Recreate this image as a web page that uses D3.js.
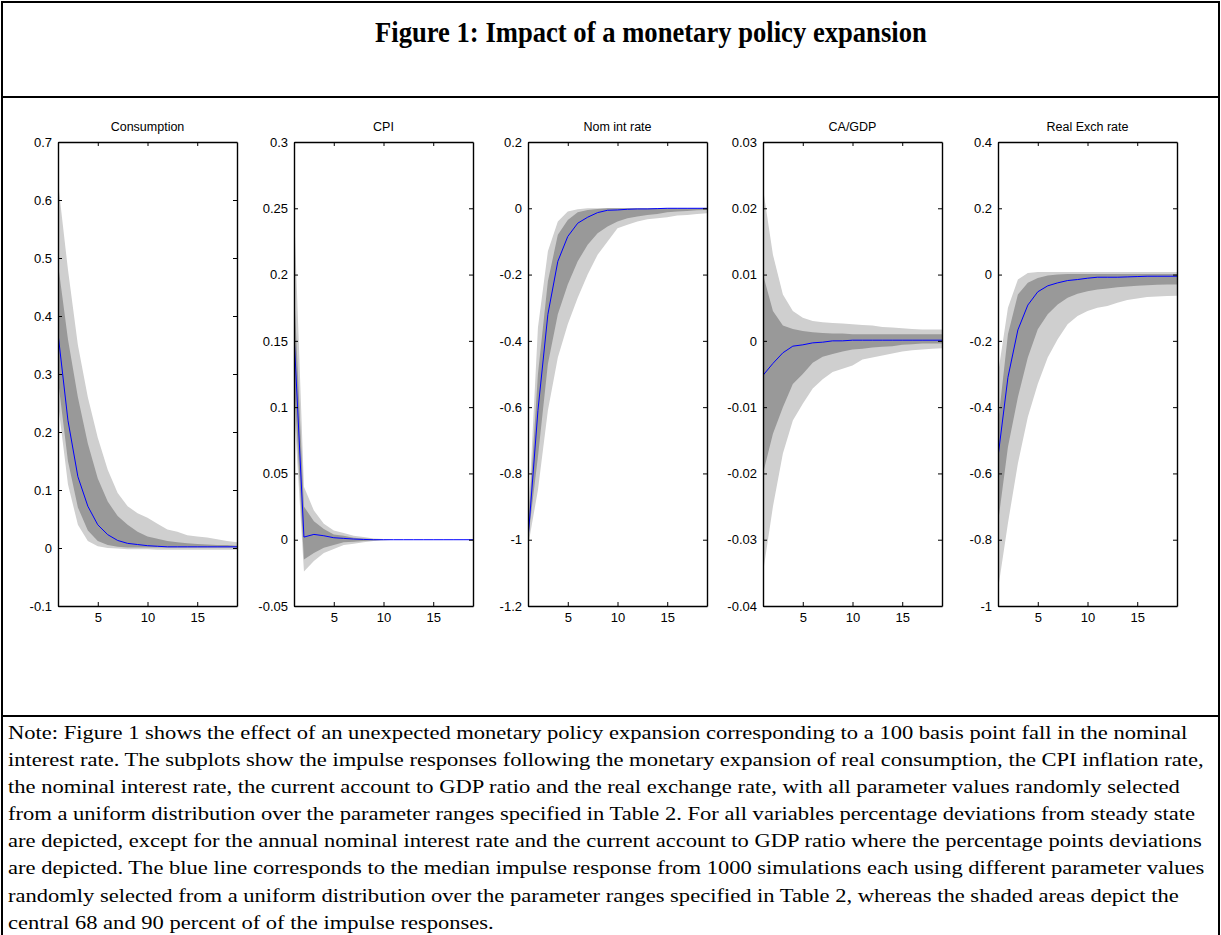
<!DOCTYPE html>
<html>
<head>
<meta charset="utf-8">
<script src="https://cdn.jsdelivr.net/npm/d3@7"></script>
<style>
  body { margin: 0; background: #fff; }
  svg text { fill: #000; }
</style>
</head>
<body>
<div id="chart"></div>
<script>
var w = 1221;
var h = 935;

// periods after the shock
var periods = [1, 2, 3, 4, 5, 6, 7, 8, 9, 10, 11, 12, 13, 14, 15, 16, 17, 18, 19];
var xTicks = [5, 10, 15];

var titles = ["Consumption", "CPI", "Nom int rate", "CA/GDP", "Real Exch rate"];

// Consumption
var consMed  = [0.37, 0.22, 0.123, 0.072, 0.04, 0.023, 0.013, 0.008, 0.006, 0.004, 0.003, 0.002, 0.002, 0.002, 0.002, 0.002, 0.002, 0.002, 0.002];
var consLo90 = [0.25, 0.11, 0.04, 0.012, 0.003, 0.0, -0.001, -0.002, -0.002, -0.002, -0.003, -0.003, -0.003, -0.003, -0.003, -0.003, -0.003, -0.003, -0.003];
var consLo68 = [0.29, 0.15, 0.07, 0.03, 0.012, 0.005, 0.002, 0.001, 0.001, 0.001, 0.001, 0.001, 0.001, 0.001, 0.001, 0.001, 0.001, 0.001, 0.001];
var consHi68 = [0.49, 0.36, 0.26, 0.18, 0.12, 0.08, 0.055, 0.04, 0.028, 0.02, 0.016, 0.012, 0.01, 0.008, 0.007, 0.006, 0.005, 0.005, 0.004];
var consHi90 = [0.63, 0.48, 0.35, 0.26, 0.19, 0.135, 0.095, 0.072, 0.06, 0.052, 0.042, 0.032, 0.028, 0.022, 0.02, 0.018, 0.015, 0.012, 0.01];
var consTicks = [0.7, 0.6, 0.5, 0.4, 0.3, 0.2, 0.1, 0, -0.1];

// CPI
var cpiMed  = [0.155, 0.002, 0.004, 0.003, 0.0015, 0.001, 0.0005, 0.0002, 0, 0, 0, 0, 0, 0, 0, 0, 0, 0, 0];
var cpiLo90 = [0.1, -0.024, -0.016, -0.01, -0.007, -0.004, -0.003, -0.002, -0.001, -0.0005, 0, 0, 0, 0, 0, 0, 0, 0, 0];
var cpiLo68 = [0.12, -0.015, -0.01, -0.006, -0.004, -0.002, -0.0015, -0.001, -0.0005, 0, 0, 0, 0, 0, 0, 0, 0, 0, 0];
var cpiHi68 = [0.19, 0.025, 0.014, 0.008, 0.004, 0.003, 0.0015, 0.001, 0.0005, 0, 0, 0, 0, 0, 0, 0, 0, 0, 0];
var cpiHi90 = [0.25, 0.04, 0.022, 0.012, 0.007, 0.005, 0.003, 0.002, 0.001, 0.0005, 0, 0, 0, 0, 0, 0, 0, 0, 0];
var cpiTicks = [0.3, 0.25, 0.2, 0.15, 0.1, 0.05, 0, -0.05];

// Nominal interest rate
var rateMed  = [-1.0, -0.61, -0.32, -0.16, -0.085, -0.045, -0.027, -0.013, -0.006, -0.005, -0.003, -0.002, -0.002, -0.001, 0, 0, 0, 0, 0];
var rateLo90 = [-1.02, -0.85, -0.61, -0.45, -0.35, -0.27, -0.2, -0.14, -0.1, -0.06, -0.05, -0.04, -0.033, -0.03, -0.027, -0.022, -0.02, -0.017, -0.015];
var rateLo68 = [-1.0, -0.75, -0.47, -0.32, -0.23, -0.16, -0.11, -0.075, -0.055, -0.04, -0.03, -0.025, -0.02, -0.017, -0.012, -0.01, -0.008, -0.006, -0.005];
var rateHi68 = [-0.97, -0.5, -0.22, -0.08, -0.035, -0.012, -0.005, -0.002, 0, 0, 0, 0, 0, 0, 0, 0, 0, 0, 0];
var rateHi90 = [-0.95, -0.36, -0.13, -0.04, -0.01, -0.003, 0, 0, 0, 0, 0, 0, 0, 0, 0, 0, 0, 0, 0];
var rateTicks = [0.2, 0, -0.2, -0.4, -0.6, -0.8, -1, -1.2];

// Current account to GDP
var caMed  = [-0.0052, -0.0034, -0.0018, -0.0008, -0.0006, -0.0003, -0.0002, 0, 0, 0.0001, 0.0001, 0.0001, 0.0001, 0.0001, 0.0001, 0.0001, 0.0001, 0.0001, 0.0001];
var caLo90 = [-0.035, -0.025, -0.017, -0.012, -0.0095, -0.0072, -0.0058, -0.0047, -0.0042, -0.0037, -0.0028, -0.0025, -0.0022, -0.0019, -0.0016, -0.0014, -0.0013, -0.0012, -0.0011];
var caLo68 = [-0.02, -0.014, -0.01, -0.0065, -0.005, -0.0033, -0.0024, -0.002, -0.0016, -0.0013, -0.0012, -0.001, -0.0009, -0.0008, -0.0006, -0.0005, -0.0004, -0.0004, -0.0004];
var caHi68 = [0.01, 0.0045, 0.0023, 0.0018, 0.0015, 0.0013, 0.0012, 0.0011, 0.0011, 0.001, 0.001, 0.001, 0.001, 0.001, 0.001, 0.001, 0.001, 0.001, 0.001];
var caHi90 = [0.023, 0.013, 0.007, 0.0045, 0.0035, 0.003, 0.0028, 0.0027, 0.0026, 0.0025, 0.0024, 0.0023, 0.0021, 0.002, 0.0019, 0.0018, 0.0017, 0.0017, 0.0017];
var caTicks = [0.03, 0.02, 0.01, 0, -0.01, -0.02, -0.03, -0.04];

// Real exchange rate
var rerMed  = [-0.55, -0.31, -0.167, -0.092, -0.052, -0.034, -0.025, -0.018, -0.015, -0.011, -0.008, -0.008, -0.008, -0.007, -0.006, -0.005, -0.005, -0.005, -0.005];
var rerLo90 = [-0.95, -0.75, -0.57, -0.43, -0.33, -0.25, -0.195, -0.15, -0.125, -0.11, -0.1, -0.095, -0.085, -0.077, -0.072, -0.068, -0.066, -0.065, -0.064];
var rerLo68 = [-0.75, -0.52, -0.37, -0.25, -0.165, -0.12, -0.09, -0.07, -0.058, -0.05, -0.045, -0.042, -0.038, -0.036, -0.034, -0.032, -0.031, -0.03, -0.03];
var rerHi68 = [-0.45, -0.18, -0.06, -0.025, -0.01, -0.003, 0, 0.002, 0.002, 0.002, 0.002, 0.002, 0.002, 0.002, 0.002, 0.002, 0.002, 0.002, 0.002];
var rerHi90 = [-0.3, -0.1, -0.015, 0.005, 0.008, 0.008, 0.008, 0.008, 0.008, 0.008, 0.008, 0.008, 0.008, 0.008, 0.008, 0.008, 0.008, 0.008, 0.008];
var rerTicks = [0.4, 0.2, 0, -0.2, -0.4, -0.6, -0.8, -1];

var panels = [
    { med: consMed, lo90: consLo90, lo68: consLo68, hi68: consHi68, hi90: consHi90, ticks: consTicks },
    { med: cpiMed,  lo90: cpiLo90,  lo68: cpiLo68,  hi68: cpiHi68,  hi90: cpiHi90,  ticks: cpiTicks },
    { med: rateMed, lo90: rateLo90, lo68: rateLo68, hi68: rateHi68, hi90: rateHi90, ticks: rateTicks },
    { med: caMed,   lo90: caLo90,   lo68: caLo68,   hi68: caHi68,   hi90: caHi90,   ticks: caTicks },
    { med: rerMed,  lo90: rerLo90,  lo68: rerLo68,  hi68: rerHi68,  hi90: rerHi90,  ticks: rerTicks }
];

var noteLines = [
    "Note: Figure 1 shows the effect of an unexpected monetary policy expansion corresponding to a 100 basis point fall in the nominal",
    "interest rate. The subplots show the impulse responses following the monetary expansion of real consumption, the CPI inflation rate,",
    "the nominal interest rate, the current account to GDP ratio and the real exchange rate, with all parameter values randomly selected",
    "from a uniform distribution over the parameter ranges specified in Table 2. For all variables percentage deviations from steady state",
    "are depicted, except for the annual nominal interest rate and the current account to GDP ratio where the percentage points deviations",
    "are depicted. The blue line corresponds to the median impulse response from 1000 simulations each using different parameter values",
    "randomly selected from a uniform distribution over the parameter ranges specified in Table 2, whereas the shaded areas depict the",
    "central 68 and 90 percent of of the impulse responses."
];

var svg = d3.select("#chart")
            .append("svg")
            .attr("width", w)
            .attr("height", h);

// outer frame and separators
svg.append("rect")
    .attr("x", 2).attr("y", 2)
    .attr("width", w - 4).attr("height", h + 10)
    .attr("fill", "none").attr("stroke", "#000").attr("stroke-width", 2);
svg.append("line").attr("x1", 2).attr("x2", w - 2).attr("y1", 97).attr("y2", 97)
    .attr("stroke", "#000").attr("stroke-width", 2);
svg.append("line").attr("x1", 2).attr("x2", w - 2).attr("y1", 716).attr("y2", 716)
    .attr("stroke", "#000").attr("stroke-width", 2);

// figure title, squeezed to the width of the original
var titleG = svg.append("g");
var titleText = titleG.append("text")
    .attr("font-family", "Liberation Serif, 'Times New Roman', serif")
    .attr("font-weight", "bold")
    .attr("font-size", 29)
    .attr("y", 42)
    .text("Figure 1: Impact of a monetary policy expansion");
var tw = titleText.node().getComputedTextLength();
var tsx = 552 / tw;
titleG.attr("transform", "translate(" + (651 - 552 / 2) + ",0) scale(" + tsx + ",1)");

// note text
var noteG = svg.append("g");
var noteTexts = noteG.selectAll("text")
    .data(noteLines)
    .enter()
    .append("text")
    .attr("font-family", "Liberation Serif, 'Times New Roman', serif")
    .attr("font-size", 18)
    .attr("x", 0)
    .attr("y", function(d, i) { return 739 + i * 27.1; })
    .text(function(d) { return d; });
var maxW = d3.max(noteTexts.nodes(), function(n) { return n.getComputedTextLength(); });
noteG.attr("transform", "translate(8,0) scale(" + (1197 / maxW) + ",1)");

// panels
var axTop = 142, axBottom = 606, axW = 179;
var axLefts = [58, 294, 528, 763, 998];
var fmt = function(d) { return String(+d.toFixed(4)); };

panels.forEach(function(p, k) {
    var g = svg.append("g").attr("transform", "translate(" + axLefts[k] + "," + axTop + ")");
    var ih = axBottom - axTop;

    var xScale = d3.scaleLinear().domain([1, 19]).range([0, axW]);
    var yScale = d3.scaleLinear()
                   .domain([d3.min(p.ticks), d3.max(p.ticks)])
                   .range([ih, 0]);

    g.append("clipPath").attr("id", "clip" + k)
        .append("rect").attr("width", axW).attr("height", ih);

    var plot = g.append("g").attr("clip-path", "url(#clip" + k + ")");

    var band = function(lo, hi) {
        return d3.area()
            .x(function(d, i) { return xScale(periods[i]); })
            .y0(function(d, i) { return yScale(lo[i]); })
            .y1(function(d, i) { return yScale(hi[i]); })(periods);
    };

    plot.append("path").attr("d", band(p.lo90, p.hi90)).attr("fill", "#cfcfcf");
    plot.append("path").attr("d", band(p.lo68, p.hi68)).attr("fill", "#999999");

    var line = d3.line()
        .x(function(d, i) { return xScale(periods[i]); })
        .y(function(d) { return yScale(d); });
    plot.append("path").attr("d", line(p.med))
        .attr("fill", "none").attr("stroke", "#0000ff").attr("stroke-width", 1);

    // axes, ticks pointing inward on all four sides
    var yAxis = d3.axisLeft(yScale).tickValues(p.ticks).tickFormat(fmt).tickSizeInner(-4).tickSizeOuter(0).tickPadding(6);
    var yAxisR = d3.axisRight(yScale).tickValues(p.ticks).tickFormat("").tickSizeInner(-4).tickSizeOuter(0);
    var xAxis = d3.axisBottom(xScale).tickValues(xTicks).tickSizeInner(-4).tickSizeOuter(0).tickPadding(7);
    var xAxisT = d3.axisTop(xScale).tickValues(xTicks).tickFormat("").tickSizeInner(-4).tickSizeOuter(0);

    var axes = [
        g.append("g").call(yAxis),
        g.append("g").attr("transform", "translate(" + axW + ",0)").call(yAxisR),
        g.append("g").attr("transform", "translate(0," + ih + ")").call(xAxis),
        g.append("g").call(xAxisT)
    ];
    axes.forEach(function(a) {
        a.selectAll("text")
            .attr("font-family", "Liberation Sans, Arial, sans-serif")
            .attr("font-size", 13)
            .attr("fill", "#111");
        a.selectAll("path, line").attr("stroke", "#000");
        a.select(".domain").attr("stroke-width", 1.4);
    });

    g.append("text")
        .attr("x", axW / 2)
        .attr("y", -11)
        .attr("text-anchor", "middle")
        .attr("font-family", "Liberation Sans, Arial, sans-serif")
        .attr("font-size", 12.5)
        .attr("fill", "#111")
        .text(titles[k]);
});
</script>
</body>
</html>
